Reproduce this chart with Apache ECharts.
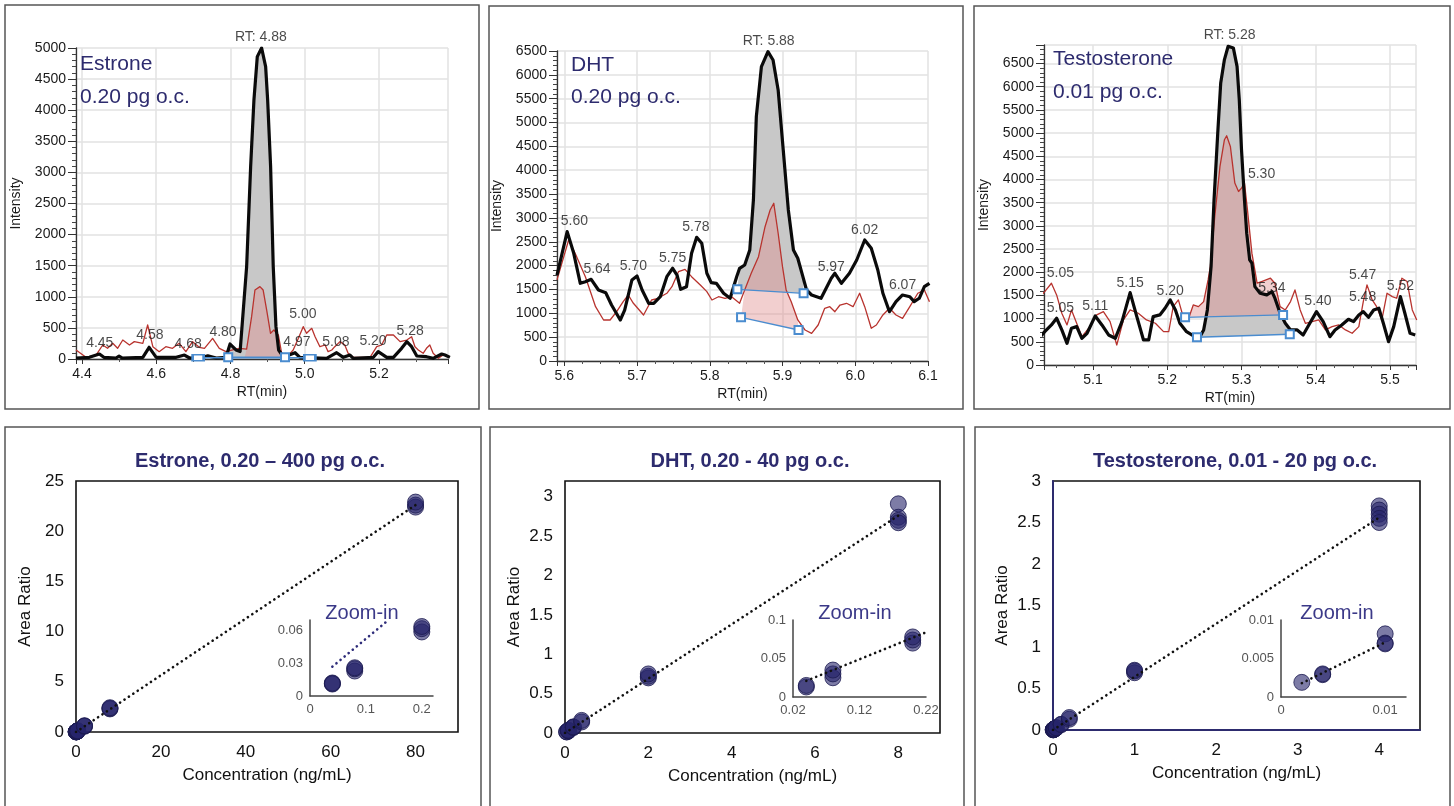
<!DOCTYPE html>
<html>
<head>
<meta charset="utf-8">
<title>Chromatograms and calibration curves</title>
<script src="https://cdn.jsdelivr.net/npm/echarts@6/dist/echarts.min.js"></script>
<style>
  html, body { margin: 0; padding: 0; background: #fff; }
  #main { width: 1454px; height: 806px; }
</style>
</head>
<body>
<div id="main"></div>
<script>
// chromatogram traces, [RT (min), intensity]; black = quan ion, red = qual ion
var estroneBlack = [[4.384,16],[4.420,27],[4.447,80],[4.459,27],[4.492,16],[4.500,48],[4.509,16],[4.564,27],[4.581,188],[4.600,27],[4.654,27],[4.676,64],[4.690,16],[4.725,27],[4.739,50],[4.762,16],[4.788,27],[4.799,241],[4.815,145],[4.826,120],[4.8436,1484],[4.8544,3093],[4.8633,4165],[4.8723,4861],[4.884,5000],[4.8948,4700],[4.9002,4165],[4.9082,3093],[4.9153,1484],[4.9226,520],[4.9298,145],[4.942,37],[4.951,48],[4.974,101],[4.987,27],[5.059,11],[5.086,101],[5.104,27],[5.122,64],[5.131,11],[5.185,27],[5.198,118],[5.221,27],[5.239,27],[5.261,172],[5.275,279],[5.288,198],[5.302,48],[5.328,37],[5.346,11],[5.369,80],[5.378,64],[5.391,27]];
var estroneRed = [[4.384,145],[4.411,27],[4.438,64],[4.456,225],[4.469,172],[4.483,252],[4.496,172],[4.510,305],[4.528,225],[4.541,279],[4.564,252],[4.577,547],[4.591,198],[4.608,118],[4.626,198],[4.644,172],[4.662,252],[4.680,118],[4.698,279],[4.716,188],[4.730,172],[4.752,332],[4.770,172],[4.788,118],[4.806,145],[4.824,172],[4.8436,160],[4.857,680],[4.866,1110],[4.8795,1163],[4.888,1110],[4.8975,788],[4.908,413],[4.917,466],[4.929,386],[4.938,91],[4.951,27],[4.969,145],[4.983,332],[4.996,520],[5.005,413],[5.019,493],[5.028,359],[5.041,198],[5.055,225],[5.063,118],[5.073,145],[5.081,198],[5.095,279],[5.108,225],[5.117,91],[5.131,27],[5.149,27],[5.176,27],[5.194,198],[5.207,225],[5.221,386],[5.239,386],[5.257,279],[5.275,305],[5.288,359],[5.297,198],[5.306,145],[5.319,91],[5.328,172],[5.337,225],[5.346,91],[5.360,11],[5.373,64],[5.391,37]];
var estroneBlackBase = [[4.794,30],[4.947,30]];
var estroneRedBase = [[4.713,20],[5.014,20]];
var estroneRedFillBase = [[4.838,20],[4.945,20]];
var estroneLabels = [[4.882,5000,'RT: 4.88'],[4.448,80,'4.45'],[4.583,209,'4.58'],[4.686,64,'4.68'],[4.780,257,'4.80'],[4.995,547,'5.00'],[4.979,96,'4.97'],[5.084,96,'5.08'],[5.184,113,'5.20'],[5.284,273,'5.28']];

var dhtBlack = [[5.590,1800],[5.604,2712],[5.613,2258],[5.622,1629],[5.629,1663],[5.637,1713],[5.647,1489],[5.657,1432],[5.665,1174],[5.677,860],[5.683,1069],[5.693,1699],[5.700,1782],[5.707,1489],[5.716,1210],[5.723,1210],[5.732,1348],[5.741,1768],[5.749,1944],[5.755,1803],[5.760,1503],[5.768,1558],[5.775,2258],[5.782,2594],[5.789,2468],[5.796,1839],[5.802,1642],[5.809,1629],[5.819,1420],[5.828,1315],[5.837,1768],[5.841,1944],[5.848,2013],[5.855,2328],[5.860,3376],[5.864,5123],[5.871,6172],[5.880,6486],[5.887,6312],[5.894,5683],[5.901,4425],[5.908,3167],[5.915,2328],[5.921,2154],[5.928,1768],[5.933,1489],[5.940,1384],[5.953,1315],[5.967,1734],[5.972,1839],[5.981,1629],[5.992,1839],[6.002,2118],[6.013,2537],[6.022,2363],[6.031,1908],[6.038,1420],[6.047,1034],[6.056,1244],[6.065,1384],[6.075,1348],[6.081,1244],[6.088,1315],[6.095,1558],[6.102,1629]];
var dhtRed = [[5.590,1700],[5.606,2537],[5.617,2188],[5.629,1768],[5.643,1139],[5.654,860],[5.663,860],[5.672,1034],[5.681,1244],[5.688,1384],[5.695,1210],[5.709,965],[5.720,1279],[5.729,1315],[5.741,1420],[5.748,1558],[5.757,1873],[5.766,1922],[5.775,1768],[5.787,1594],[5.796,1454],[5.803,1279],[5.812,1348],[5.821,1315],[5.830,1348],[5.841,1210],[5.848,1489],[5.857,1839],[5.867,2188],[5.876,2816],[5.883,3167],[5.888,3307],[5.894,2678],[5.900,1978],[5.905,1489],[5.912,1244],[5.921,860],[5.931,650],[5.940,580],[5.949,755],[5.958,1105],[5.965,1139],[5.972,1034],[5.979,1174],[5.988,1210],[5.997,1139],[6.006,1420],[6.013,1139],[6.022,686],[6.029,755],[6.038,965],[6.047,1105],[6.056,965],[6.065,895],[6.075,1139],[6.086,1420],[6.095,1489],[6.102,1244]];
var dhtBlackBase = [[5.838,1503],[5.929,1420]];
var dhtRedBase = [[5.843,916],[5.922,650]];
var dhtLabels = [[5.881,6486,'RT: 5.88'],[5.614,2705,'5.60'],[5.645,1713,'5.64'],[5.695,1761,'5.70'],[5.749,1936,'5.75'],[5.781,2579,'5.78'],[5.967,1747,'5.97'],[6.013,2531,'6.02'],[6.065,1363,'6.07']];

var testoBlack = [[5.029,611],[5.035,719],[5.044,864],[5.051,1008],[5.058,756],[5.065,468],[5.071,792],[5.078,827],[5.085,576],[5.092,684],[5.103,1058],[5.112,864],[5.121,648],[5.130,576],[5.139,936],[5.150,1562],[5.159,1044],[5.168,540],[5.175,540],[5.181,1044],[5.190,1080],[5.197,1224],[5.204,1403],[5.211,1187],[5.217,900],[5.226,719],[5.237,611],[5.244,611],[5.249,756],[5.254,1187],[5.259,2122],[5.263,3562],[5.268,5002],[5.272,6082],[5.277,6585],[5.282,6872],[5.289,6837],[5.294,6440],[5.297,5721],[5.300,4642],[5.304,3562],[5.307,2843],[5.311,2267],[5.314,2196],[5.318,1690],[5.325,1548],[5.334,1511],[5.341,1583],[5.345,1440],[5.352,1116],[5.359,900],[5.366,756],[5.375,756],[5.383,648],[5.392,900],[5.401,1151],[5.410,936],[5.419,611],[5.426,756],[5.435,864],[5.444,986],[5.451,936],[5.458,1080],[5.464,1151],[5.471,1029],[5.478,1187],[5.485,1224],[5.491,900],[5.498,504],[5.505,827],[5.514,1475],[5.520,1116],[5.527,684],[5.534,648]];
var testoRed = [[5.029,1475],[5.035,1583],[5.044,1763],[5.051,1511],[5.058,1116],[5.065,864],[5.071,1187],[5.078,900],[5.085,611],[5.096,827],[5.105,1080],[5.114,1151],[5.123,936],[5.132,432],[5.141,972],[5.150,1187],[5.161,1116],[5.172,972],[5.184,900],[5.195,719],[5.202,719],[5.208,1259],[5.215,1403],[5.222,1008],[5.228,972],[5.235,1295],[5.242,1259],[5.249,1367],[5.255,1835],[5.258,2122],[5.264,3202],[5.271,4282],[5.277,4858],[5.280,4944],[5.285,4713],[5.291,3923],[5.296,3742],[5.300,3815],[5.304,3923],[5.308,3346],[5.314,2412],[5.321,1764],[5.327,1799],[5.339,1871],[5.345,1763],[5.352,1259],[5.359,1187],[5.366,1367],[5.372,1619],[5.379,1187],[5.386,900],[5.395,936],[5.404,972],[5.413,756],[5.422,827],[5.431,864],[5.440,756],[5.449,684],[5.458,827],[5.464,1367],[5.469,1727],[5.476,1403],[5.482,1259],[5.489,972],[5.496,1548],[5.503,1475],[5.509,1439],[5.516,1871],[5.523,1799],[5.530,1187],[5.536,972]];
var testoBlackBase = [[5.240,598],[5.365,663]];
var testoRedBase = [[5.224,1029],[5.356,1080]];
var testoLabels = [[5.284,6880,'RT: 5.28'],[5.327,3879,'5.30'],[5.056,1756,'5.05'],[5.056,1000,'5.05'],[5.103,1036,'5.11'],[5.150,1540,'5.15'],[5.204,1360,'5.20'],[5.341,1432,'5.34'],[5.403,1144,'5.40'],[5.463,1720,'5.47'],[5.463,1231,'5.48'],[5.514,1468,'5.52']];

// calibration data, concentration (ng/mL) and area ratio, one entry per replicate
var estroneConc  = [0.04, 0.04, 0.04, 0.08, 0.08, 0.08, 0.2, 0.2, 0.2, 0.4, 0.4, 2, 2, 2, 8, 8, 8, 80, 80, 80];
var estroneRatio = [0.011, 0.012, 0.0115, 0.023, 0.025, 0.026, 0.059, 0.062, 0.064, 0.11, 0.12, 0.57, 0.6, 0.62, 2.3, 2.35, 2.42, 22.4, 22.6, 22.9];
var estroneFit = [[0, 0], [80, 22.6]];
var estroneZoomFit = [[0.04, 0.027], [0.138, 0.069]];

var dhtConc  = [0.04, 0.04, 0.08, 0.08, 0.08, 0.2, 0.2, 0.2, 0.4, 0.4, 2, 2, 2, 8, 8, 8, 8];
var dhtRatio = [0.013, 0.015, 0.025, 0.03, 0.035, 0.07, 0.074, 0.078, 0.14, 0.16, 0.7, 0.72, 0.75, 2.91, 2.74, 2.7, 2.67];
var dhtFit = [[0, 0], [8, 2.76]];
var dhtZoomFit = [[0.04, 0.021], [0.22, 0.084]];

var testoConc  = [0.002, 0.004, 0.004, 0.01, 0.01, 0.01, 0.02, 0.02, 0.04, 0.04, 0.1, 0.1, 0.2, 0.2, 1, 1, 1, 4, 4, 4, 4, 4];
var testoRatio = [0.0019, 0.0029, 0.003, 0.0082, 0.007, 0.0069, 0.013, 0.014, 0.026, 0.028, 0.065, 0.068, 0.13, 0.15, 0.69, 0.71, 0.72, 2.7, 2.65, 2.6, 2.55, 2.5];
var testoFit = [[0, 0], [4, 2.56]];
var testoZoomFit = [[0.002, 0.0018], [0.01, 0.0071]];

var NAVY = '#2d2b6e';
var FONT = '"Liberation Sans", Arial, Helvetica, sans-serif';

function onStep(v, base, step) {
	var k = (v - base) / step;
	return Math.abs(k - Math.round(k)) < 1e-6;
}
function trimNum(v) {
	return String(parseFloat(v.toFixed(6)));
}

function rtAxis(grid, min, max, step, minor) {
	return {
		type: 'value', gridIndex: grid, min: min, max: max,
		minInterval: step, maxInterval: step,
		name: 'RT(min)', nameLocation: 'middle', nameGap: 26,
		nameTextStyle: { fontSize: 14, color: '#1a1a1a' },
		axisLine: { show: true, onZero: false, lineStyle: { color: '#333', width: 1.3 } },
		axisTick: { show: true, length: 5, lineStyle: { color: '#333' } },
		minorTick: { show: true, splitNumber: minor, length: 3, lineStyle: { color: '#555' } },
		axisLabel: { fontSize: 14, color: '#1a1a1a', margin: 8,
			formatter: function (v) { return onStep(v, 0, step) ? v.toFixed(1) : ''; } },
		splitLine: { show: true, lineStyle: { color: '#e2e2e2', width: 1.5 } }
	};
}
function intensityAxis(grid, max) {
	return {
		type: 'value', gridIndex: grid, min: 0, max: max,
		minInterval: 500, maxInterval: 500,
		name: 'Intensity', nameLocation: 'middle', nameGap: 53,
		nameTextStyle: { fontSize: 14, color: '#1a1a1a' },
		axisLine: { show: true, lineStyle: { color: '#333', width: 1.3 } },
		axisTick: { show: true, length: 8, lineStyle: { color: '#333' } },
		minorTick: { show: true, splitNumber: 5, length: 4, lineStyle: { color: '#444' } },
		axisLabel: { fontSize: 14, color: '#1a1a1a', margin: 10,
			formatter: function (v) { return onStep(v, 0, 500) ? String(v) : ''; } },
		splitLine: { show: true, lineStyle: { color: '#e2e2e2', width: 1.5 } }
	};
}
function calAxis(grid, max, step, name, gap, lineColor) {
	return {
		type: 'value', gridIndex: grid, min: 0, max: max, interval: step,
		name: name, nameLocation: 'middle', nameGap: gap,
		nameTextStyle: { fontSize: 17, color: '#111' },
		axisLine: { show: !!lineColor, onZero: false, lineStyle: { color: lineColor || '#111', width: 2 } },
		axisTick: { show: false },
		splitLine: { show: false },
		axisLabel: { fontSize: 17, color: '#111', margin: 12,
			formatter: function (v) { return onStep(v, 0, step) ? trimNum(v) : ''; } }
	};
}
function insetAxis(grid, min, max, step) {
	return {
		type: 'value', gridIndex: grid, min: min, max: max, interval: step,
		axisLine: { show: true, onZero: false, lineStyle: { color: '#444', width: 1.5 } },
		axisTick: { show: false },
		splitLine: { show: false },
		axisLabel: { fontSize: 13, color: '#555', margin: 7,
			formatter: function (v) { return onStep(v, min, step) ? trimNum(v) : ''; } }
	};
}

// filled integration area: baseline start -> trace points inside -> baseline end
function peakFill(grid, trace, base, color) {
	return {
		type: 'custom', xAxisIndex: grid, yAxisIndex: grid, data: [[base[0][0], base[0][1]]],
		silent: true, z: 1,
		renderItem: function (params, api) {
			var pts = [api.coord(base[0])];
			trace.forEach(function (p) {
				if (p[0] > base[0][0] && p[0] < base[1][0]) pts.push(api.coord(p));
			});
			pts.push(api.coord(base[1]));
			return { type: 'polygon', shape: { points: pts }, style: { fill: color } };
		}
	};
}
function traceSeries(grid, data, color, width, z) {
	return {
		type: 'line', xAxisIndex: grid, yAxisIndex: grid, data: data,
		symbol: 'none', silent: true, z: z,
		lineStyle: { color: color, width: width, join: 'round' }
	};
}
function baseSeries(grid, data, size) {
	return {
		type: 'line', xAxisIndex: grid, yAxisIndex: grid, data: data,
		symbol: 'emptyRect', symbolSize: size, showSymbol: true, silent: true, z: 4,
		lineStyle: { color: '#4a8ccf', width: 1.3 },
		itemStyle: { color: '#4a8ccf', borderWidth: 1.3 }
	};
}
function labelSeries(grid, labels) {
	return {
		type: 'scatter', xAxisIndex: grid, yAxisIndex: grid, silent: true, z: 6,
		symbolSize: 1, itemStyle: { color: 'rgba(0,0,0,0)' },
		data: labels.map(function (l) { return { value: [l[0], l[1]], name: l[2] }; }),
		label: { show: true, position: 'top', distance: 3, fontSize: 14, color: '#1a1a1a',
			formatter: function (p) { return p.name; } }
	};
}
function pointSeries(grid, conc, ratio, maxConc) {
	var pts = [];
	for (var i = 0; i < conc.length; i++) {
		if (conc[i] <= maxConc) pts.push([conc[i], ratio[i]]);
	}
	return {
		type: 'scatter', xAxisIndex: grid, yAxisIndex: grid, data: pts, clip: false,
		symbolSize: 16, z: 3,
		itemStyle: { color: 'rgba(39,37,107,0.6)', borderColor: 'rgba(28,26,80,0.8)', borderWidth: 1, opacity: 1 }
	};
}
function fitSeries(grid, data, color) {
	return {
		type: 'line', xAxisIndex: grid, yAxisIndex: grid, data: data,
		symbol: 'none', silent: true, z: 5,
		lineStyle: { color: color, width: 2.6, type: [0.1, 5.2], cap: 'round' }
	};
}
function chromSeries(grid, black, red, blackBase, redBase, redFillBase, labels, redBoxSize) {
	return [
		peakFill(grid, black, blackBase, '#c8c8c8'),
		peakFill(grid, red, redFillBase, 'rgba(225,140,140,0.42)'),
		traceSeries(grid, red, '#b8332e', 1.3, 2),
		traceSeries(grid, black, '#0a0a0a', 3.2, 3),
		baseSeries(grid, blackBase, 8),
		baseSeries(grid, redBase, redBoxSize),
		labelSeries(grid, labels)
	];
}
function txt(x, y, s, size, color, weight, align) {
	return {
		type: 'text', z: 20, silent: true,
		style: { x: x, y: y, text: s, font: (weight || 'normal') + ' ' + size + 'px ' + FONT,
			fill: color, align: align || 'left', verticalAlign: 'middle' }
	};
}
function frame(x, y, w, h) {
	return { type: 'rect', silent: true, z: 0, shape: { x: x, y: y, width: w, height: h },
		style: { fill: 'none', stroke: '#555', lineWidth: 1.5 } };
}

var calGrid = { show: true, borderColor: '#111', borderWidth: 1.6, backgroundColor: 'rgba(0,0,0,0)' };

var option = {
	animation: false,
	backgroundColor: '#fff',
	textStyle: { fontFamily: FONT },
	grid: [
		{ left: 76, top: 48, width: 372, height: 311 },
		{ left: 557, top: 51, width: 371, height: 310 },
		{ left: 1044, top: 45, width: 372, height: 320 },
		Object.assign({ left: 76, top: 481, width: 382, height: 251 }, calGrid),
		Object.assign({ left: 565, top: 481, width: 375, height: 252 }, calGrid),
		Object.assign({ left: 1053, top: 481, width: 367, height: 249 }, calGrid),
		{ left: 310, top: 620, width: 123, height: 76 },
		{ left: 793, top: 620, width: 133, height: 77 },
		{ left: 1281, top: 620, width: 125, height: 77 }
	],
	xAxis: [
		rtAxis(0, 4.384, 5.386, 0.2, 2),
		rtAxis(1, 5.59, 6.1, 0.1, 4),
		rtAxis(2, 5.034, 5.535, 0.1, 4),
		calAxis(3, 90, 20, 'Concentration (ng/mL)', 35),
		calAxis(4, 9, 2, 'Concentration (ng/mL)', 35),
		calAxis(5, 4.5, 1, 'Concentration (ng/mL)', 35, NAVY),
		insetAxis(6, 0, 0.22, 0.1),
		insetAxis(7, 0.02, 0.22, 0.1),
		insetAxis(8, 0, 0.012, 0.01)
	],
	yAxis: [
		intensityAxis(0, 5000),
		intensityAxis(1, 6500),
		intensityAxis(2, 6900),
		calAxis(3, 25, 5, 'Area Ratio', 42),
		calAxis(4, 3.2, 0.5, 'Area Ratio', 42),
		calAxis(5, 3, 0.5, 'Area Ratio', 42, NAVY),
		insetAxis(6, 0, 0.07, 0.03),
		insetAxis(7, 0, 0.1, 0.05),
		insetAxis(8, 0, 0.01, 0.005)
	],
	series: [].concat(
		chromSeries(0, estroneBlack, estroneRed, estroneBlackBase, estroneRedBase, estroneRedFillBase, estroneLabels, [11, 6]),
		chromSeries(1, dhtBlack, dhtRed, dhtBlackBase, dhtRedBase, dhtRedBase, dhtLabels, 8),
		chromSeries(2, testoBlack, testoRed, testoBlackBase, testoRedBase, testoRedBase, testoLabels, 8),
		[
			pointSeries(3, estroneConc, estroneRatio, 100),
			fitSeries(3, estroneFit, '#111'),
			pointSeries(4, dhtConc, dhtRatio, 100),
			fitSeries(4, dhtFit, '#111'),
			pointSeries(5, testoConc, testoRatio, 100),
			fitSeries(5, testoFit, '#111'),
			pointSeries(6, estroneConc, estroneRatio, 0.22),
			fitSeries(6, estroneZoomFit, '#2f2d7a'),
			pointSeries(7, dhtConc, dhtRatio, 0.22),
			fitSeries(7, dhtZoomFit, '#111'),
			pointSeries(8, testoConc, testoRatio, 0.012),
			fitSeries(8, testoZoomFit, '#111')
		]
	),
	graphic: [
		frame(5, 5, 474, 404), frame(489, 6, 474, 403), frame(974, 6, 476, 403),
		frame(5, 427, 476, 392), frame(490, 427, 474, 392), frame(975, 427, 475, 392),
		txt(80, 64, 'Estrone', 21, NAVY),
		txt(80, 97, '0.20 pg o.c.', 21, NAVY),
		txt(571, 65, 'DHT', 21, NAVY),
		txt(571, 97, '0.20 pg o.c.', 21, NAVY),
		txt(1053, 59, 'Testosterone', 21, NAVY),
		txt(1053, 92, '0.01 pg o.c.', 21, NAVY),
		txt(260, 461, 'Estrone, 0.20 \u2013 400 pg o.c.', 20, NAVY, 'bold', 'center'),
		txt(750, 461, 'DHT, 0.20 - 40 pg o.c.', 20, NAVY, 'bold', 'center'),
		txt(1235, 461, 'Testosterone, 0.01 - 20 pg o.c.', 20, NAVY, 'bold', 'center'),
		txt(362, 613, 'Zoom-in', 20, '#3b3988', 'normal', 'center'),
		txt(855, 613, 'Zoom-in', 20, '#3b3988', 'normal', 'center'),
		txt(1337, 613, 'Zoom-in', 20, '#3b3988', 'normal', 'center')
	]
};

var chart = echarts.init(document.getElementById('main'));
chart.setOption(option);
</script>
</body>
</html>
